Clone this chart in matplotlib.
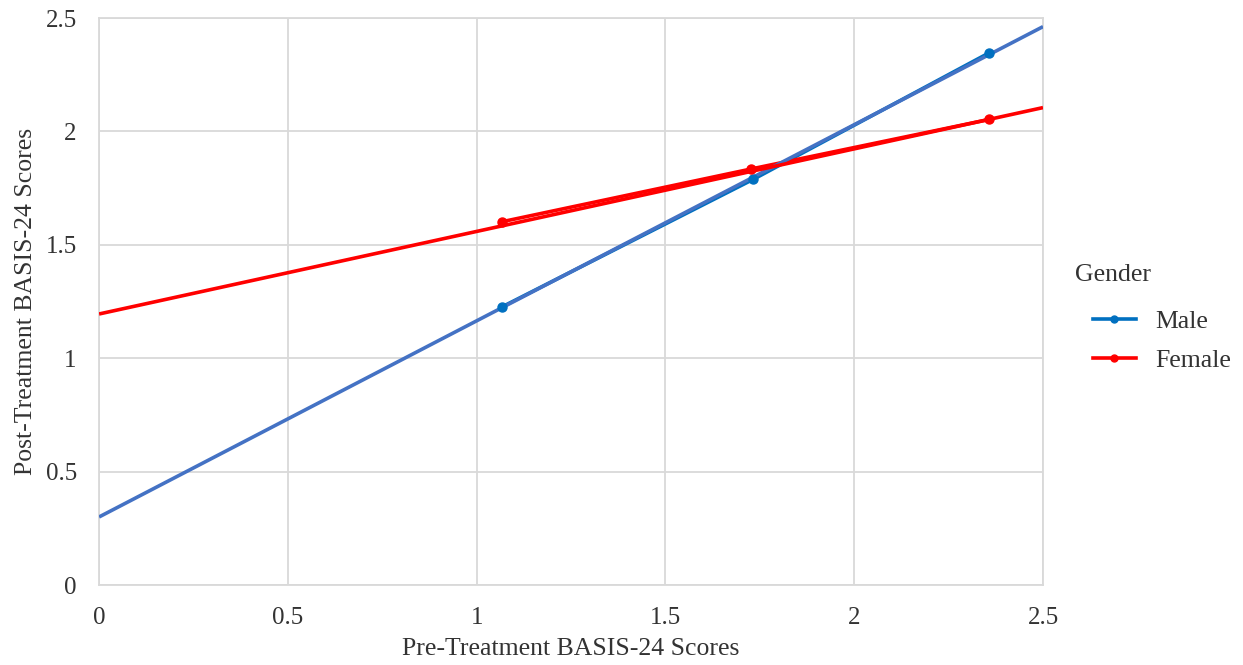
import numpy as np
import matplotlib
matplotlib.use('Agg')
import matplotlib.pyplot as plt

plt.rcParams['font.family'] = ['Liberation Serif', 'DejaVu Serif']

# pre/post treatment means
male_pre = [1.068, 1.733, 2.358]
male_post = [1.227, 1.789, 2.347]
female_pre = [1.068, 1.726, 2.358]
female_post = [1.602, 1.834, 2.053]

# linear trendlines as drawn in the chart (values at x = 0 and x = 2.5)
trend_x = [0, 2.5]
male_trend = [0.30, 2.462]
female_trend = [1.195, 2.105]

fig = plt.figure(figsize=(12.43, 6.65), dpi=100)
ax = fig.add_axes([0.0797, 0.1203, 0.7594, 0.8526])

# data lines sit under the trendlines, markers on top
ax.plot(male_pre, male_post, color='#0070C0', lw=2.6, zorder=2)
ax.plot(female_pre, female_post, color='#FF0000', lw=2.6, zorder=2)
ax.plot(trend_x, male_trend, color='#4472C4', lw=2.6, solid_capstyle='butt', zorder=3)
ax.plot(trend_x, female_trend, color='#FF0000', lw=2.6, solid_capstyle='butt', zorder=3)
ax.plot(male_pre, male_post, ls='none', color='#0070C0', marker='o', ms=6.5, zorder=4)
ax.plot(female_pre, female_post, ls='none', color='#FF0000', marker='o', ms=6.5, zorder=4)

# legend proxies
ax.plot([], [], color='#0070C0', lw=2.6, marker='o', ms=5, label='Male')
ax.plot([], [], color='#FF0000', lw=2.6, marker='o', ms=5, label='Female')

ticks = [0, 0.5, 1, 1.5, 2, 2.5]
tick_labels = ['0', '0.5', '1', '1.5', '2', '2.5']
ax.set_xlim(0, 2.5)
ax.set_ylim(0, 2.5)
ax.set_xticks(ticks)
ax.set_yticks(ticks)
ax.set_xticklabels(tick_labels)
ax.set_yticklabels(tick_labels)
ax.tick_params(length=0, labelsize=18, colors='#333333')
ax.tick_params(axis='x', pad=16)
ax.tick_params(axis='y', pad=16)
ax.grid(True, color='#D9D9D9', lw=1.3)
ax.set_axisbelow(True)
for s in ax.spines.values():
    s.set_color('#D9D9D9')
    s.set_linewidth(1.3)

ax.set_xlabel('Pre-Treatment BASIS-24 Scores', fontsize=18.5, color='#333333', labelpad=6)
ax.set_ylabel('Post-Treatment BASIS-24 Scores', fontsize=18.5, color='#333333', labelpad=6)

leg = ax.legend(loc='center left', bbox_to_anchor=(1093 / 1243, 1 - 341 / 665),
                bbox_transform=fig.transFigure, frameon=False, fontsize=18.5,
                borderpad=0, borderaxespad=0, handlelength=1.67,
                handletextpad=0.74, labelspacing=0.65)
for t in leg.get_texts():
    t.set_color('#333333')
fig.text(1075 / 1243, 1 - 275 / 665, 'Gender', fontsize=18.5, color='#333333',
         ha='left', va='center')

fig.savefig('out.png', dpi=100)
